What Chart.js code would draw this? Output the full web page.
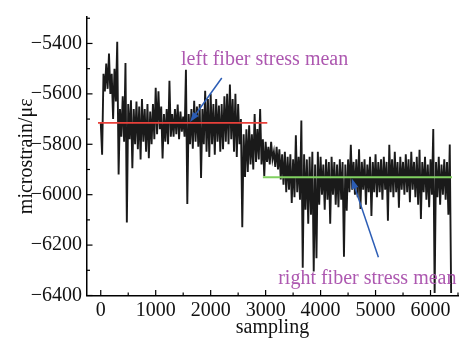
<!DOCTYPE html>
<html>
<head>
<meta charset="utf-8">
<script src="https://cdn.jsdelivr.net/npm/chart.js@4.4.1/dist/chart.umd.min.js"></script>
<style>
  html, body { margin: 0; padding: 0; background: #fff; }
  canvas { display: block; }
</style>
</head>
<body>
<canvas id="strainChart" width="463" height="340"></canvas>
<script>
// strain, one high and one low value per 50-sample window
const upperEnvelope = [
  -5712, -5520, -5480, -5440, -5520, -5500, -5393, -5660, -5610, -5478,
  -5640, -5625, -5660, -5630, -5650, -5620, -5660, -5640, -5670, -5640,
  -5576, -5590, -5650, -5680, -5660, -5548, -5680, -5660, -5642, -5670,
  -5690, -5504, -5680, -5660, -5627, -5650, -5640, -5660, -5588, -5620,
  -5600, -5640, -5620, -5646, -5640, -5610, -5600, -5563, -5620, -5600,
  -5640, -5700, -5760, -5740, -5725, -5760, -5680, -5740, -5660, -5780,
  -5790, -5810, -5790, -5830, -5810, -5820, -5840, -5830, -5850, -5840,
  -5860, -5764, -5850, -5706, -5840, -5860, -5850, -5830, -5880, -5830,
  -5850, -5880, -5860, -5870, -5850, -5870, -5880, -5860, -5870, -5880,
  -5860, -5802, -5870, -5860, -5820, -5870, -5860, -5880, -5850, -5870,
  -5840, -5870, -5860, -5850, -5870, -5802, -5860, -5830, -5870, -5850,
  -5870, -5840, -5860, -5830, -5870, -5850, -5822, -5870, -5850, -5880,
  -5860, -5739, -5870, -5850, -5880, -5860, -5870, -5801
];
const lowerEnvelope = [
  -5841, -5590, -5580, -5600, -5700, -5630, -5920, -5770, -5790, -6110,
  -5780, -5895, -5800, -5820, -5860, -5790, -5830, -5855, -5800, -5780,
  -5760, -5740, -5856, -5790, -5800, -5770, -5770, -5760, -5780, -5750,
  -5770, -6037, -5800, -5818, -5790, -5810, -5934, -5800, -5830, -5850,
  -5800, -5841, -5790, -5830, -5820, -5790, -5800, -5780, -5830, -5850,
  -5800, -6129, -5930, -5910, -5880, -5900, -5870, -5860, -5880, -5927,
  -5870, -5880, -5860, -5890, -5900, -5940, -5960, -5990, -5980, -6033,
  -6010, -5990, -6020, -6290, -6060, -6115, -6080, -6305, -6252, -6040,
  -6000, -6060, -6020, -6115, -6000, -6040, -6050, -6020, -6246, -6064,
  -5990, -5980, -6000, -6010, -6057, -5980, -6040, -5990, -6084, -5990,
  -6010, -5990, -6020, -5980, -6103, -5990, -6010, -5990, -6052, -5980,
  -6000, -5990, -6030, -5980, -6010, -6040, -6096, -5990, -6020, -6050,
  -6000, -6390, -6010, -6040, -6000, -6020, -6080, -6390
];
const windowSize = 50;

const leftMean = -5715;
const leftMeanSpan = [-50, 3030];
const rightMean = -5931;
const rightMeanSpan = [2950, 6390];

const xTicks = [0, 1000, 2000, 3000, 4000, 5000, 6000];
const xMinorTicks = [500, 1500, 2500, 3500, 4500, 5500, 6500];
const yTicks = [-6400, -6200, -6000, -5800, -5600, -5400];
const yMinorTicks = [-6300, -6100, -5900, -5700, -5500, -5300];

const noteTexts = ['left fiber stress mean', 'right fiber stress mean'];
const noteAnchors = [[1461, -5486], [3228, -6353]];
const arrowTails = [[2202, -5537], [5052, -6248]];
const arrowHeads = [[1625, -5712], [4568, -5936]];

// interleave high/low so the trace swings like the raw signal
const strainPoints = [];
upperEnvelope.forEach((hi, k) => {
  strainPoints.push({ x: k * windowSize, y: hi });
  strainPoints.push({ x: k * windowSize + windowSize / 2, y: lowerEnvelope[k] });
});

const serif = 'Liberation Serif, Times New Roman, serif';
const fmt = v => (v < 0 ? '\u2212' : '') + Math.abs(v);

const decorations = {
  id: 'decorations',
  afterDraw(chart) {
    const { ctx, chartArea, scales: { x, y } } = chart;
    ctx.save();
    ctx.strokeStyle = '#000';
    ctx.lineWidth = 1.2;
    const seg = (x1, y1, x2, y2) => {
      ctx.beginPath(); ctx.moveTo(x1, y1); ctx.lineTo(x2, y2); ctx.stroke();
    };
    xTicks.forEach(v => { const px = x.getPixelForValue(v); seg(px, chartArea.bottom, px, chartArea.bottom - 5.5); });
    xMinorTicks.forEach(v => { const px = x.getPixelForValue(v); seg(px, chartArea.bottom, px, chartArea.bottom - 3); });
    yTicks.forEach(v => { const py = y.getPixelForValue(v); seg(chartArea.left, py, chartArea.left + 5.5, py); });
    yMinorTicks.forEach(v => { const py = y.getPixelForValue(v); seg(chartArea.left, py, chartArea.left + 3, py); });

    // arrows
    ctx.strokeStyle = '#2c5db5';
    ctx.fillStyle = '#2c5db5';
    ctx.lineWidth = 1.5;
    arrowTails.forEach((t, i) => {
      const x1 = x.getPixelForValue(t[0]), y1 = y.getPixelForValue(t[1]);
      const x2 = x.getPixelForValue(arrowHeads[i][0]), y2 = y.getPixelForValue(arrowHeads[i][1]);
      const a = Math.atan2(y2 - y1, x2 - x1);
      seg(x1, y1, x2 - 6 * Math.cos(a), y2 - 6 * Math.sin(a));
      ctx.beginPath();
      ctx.moveTo(x2, y2);
      ctx.lineTo(x2 - 10 * Math.cos(a) + 3.5 * Math.sin(a), y2 - 10 * Math.sin(a) - 3.5 * Math.cos(a));
      ctx.lineTo(x2 - 10 * Math.cos(a) - 3.5 * Math.sin(a), y2 - 10 * Math.sin(a) + 3.5 * Math.cos(a));
      ctx.closePath();
      ctx.fill();
    });

    // notes
    ctx.fillStyle = '#ad58b0';
    ctx.font = '20px ' + serif;
    ctx.textAlign = 'left';
    ctx.textBaseline = 'alphabetic';
    noteTexts.forEach((txt, i) => {
      ctx.fillText(txt, x.getPixelForValue(noteAnchors[i][0]), y.getPixelForValue(noteAnchors[i][1]));
    });
    ctx.restore();
  }
};

new Chart(document.getElementById('strainChart'), {
  type: 'line',
  data: {
    datasets: [
      {
        label: 'left mean',
        data: leftMeanSpan.map(s => ({ x: s, y: leftMean })),
        borderColor: '#e8403a', borderWidth: 1.8, pointRadius: 0, order: 0
      },
      {
        label: 'right mean',
        data: rightMeanSpan.map(s => ({ x: s, y: rightMean })),
        borderColor: '#80d060', borderWidth: 2, pointRadius: 0, order: 0
      },
      {
        label: 'strain',
        data: strainPoints,
        borderColor: '#1a1a1a', borderWidth: 1.9, pointRadius: 0, tension: 0, order: 1
      }
    ]
  },
  options: {
    responsive: false,
    animation: false,
    devicePixelRatio: 1,
    layout: { padding: { top: 13, right: 5, left: 0, bottom: 0 } },
    plugins: { legend: { display: false }, tooltip: { enabled: false } },
    scales: {
      x: {
        type: 'linear', min: -250, max: 6500,
        grid: { display: false, drawTicks: false },
        border: { display: true, color: '#000', width: 1.5 },
        afterBuildTicks: s => { s.ticks = xTicks.map(v => ({ value: v })); },
        afterFit: s => { s.height = 44.5; },
        ticks: { callback: v => fmt(v), font: { family: serif, size: 20 }, color: '#111', padding: 3, maxRotation: 0, autoSkip: false },
        title: { display: true, text: 'sampling', font: { family: serif, size: 20 }, color: '#111', padding: { top: 0, bottom: 0 } }
      },
      y: {
        type: 'linear', min: -6400, max: -5295,
        grid: { display: false, drawTicks: false },
        border: { display: true, color: '#000', width: 1.5 },
        afterBuildTicks: s => { s.ticks = yTicks.map(v => ({ value: v })); },
        afterFit: s => { s.width = 87; },
        ticks: { callback: v => fmt(v), font: { family: serif, size: 20 }, color: '#111', padding: 5, autoSkip: false },
        title: { display: true, text: 'microstrain/\u03bc\u03b5', font: { family: serif, size: 20 }, color: '#111', padding: { top: 15, bottom: 0 } }
      }
    }
  },
  plugins: [decorations]
});
</script>
</body>
</html>
